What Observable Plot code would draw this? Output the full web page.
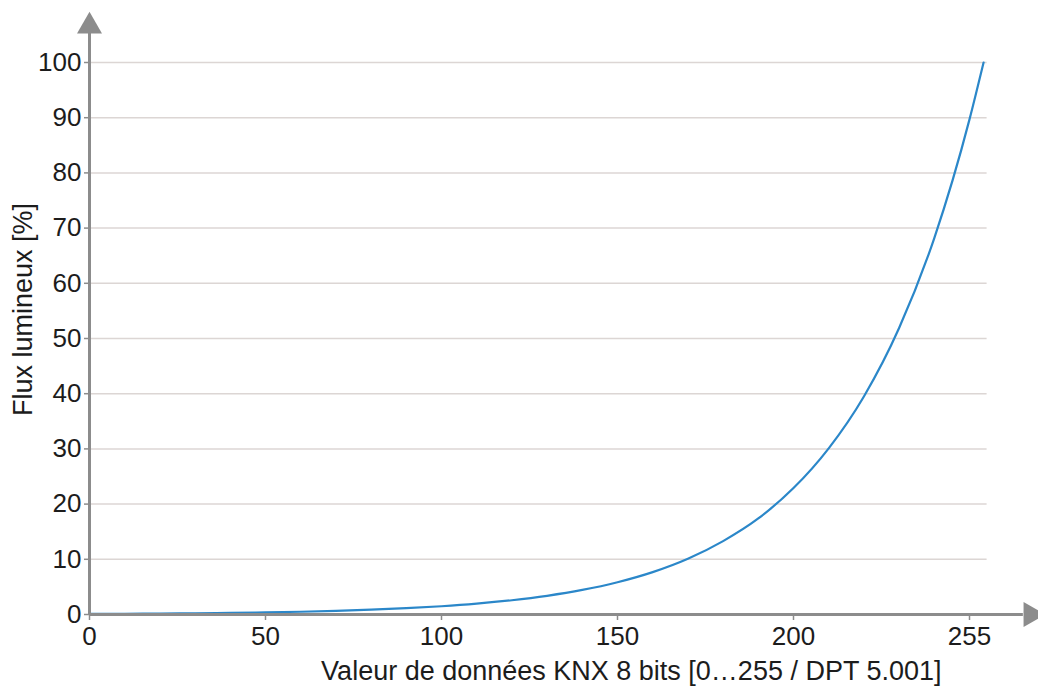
<!DOCTYPE html>
<html>
<head>
<meta charset="utf-8">
<script src="https://cdn.jsdelivr.net/npm/d3@7"></script>
<script src="https://cdn.jsdelivr.net/npm/@observablehq/plot@0.6"></script>
<style>
  html, body { margin: 0; padding: 0; background: #fff; }
  #chart svg { display: block; }
</style>
</head>
<body>
<div id="chart"></div>
<script>
// Data
const dataValues = [0, 10, 20, 30, 40, 50, 60, 70, 80, 90, 100, 110, 120, 130, 140, 150, 160, 170, 180, 190, 200, 210, 220, 230, 240, 250, 254];
const luminousFlux = [0.1, 0.13, 0.17, 0.22, 0.29, 0.38, 0.5, 0.66, 0.87, 1.14, 1.49, 1.96, 2.58, 3.39, 4.45, 5.85, 7.68, 10.1, 13.3, 17.4, 22.9, 30.1, 39.5, 51.9, 68.2, 89.7, 100];
const xTickValues = [0, 50, 100, 150, 200, 250];
const xTickLabels = ["0", "50", "100", "150", "200", "255"];
const yTickValues = [0, 10, 20, 30, 40, 50, 60, 70, 80, 90, 100];
const yGridValues = [10, 20, 30, 40, 50, 60, 70, 80, 90, 100];
const xLabel = "Valeur de données KNX 8 bits [0…255 / DPT 5.001]";
const yLabel = "Flux lumineux [%]";

const table = dataValues.map((v, i) => ({x: v, y: luminousFlux[i]}));
const axisGrey = "#8c8c8c";

const chart = Plot.plot({
  width: 1038,
  height: 686,
  marginLeft: 89,
  marginRight: 51.4,
  marginTop: 62,
  marginBottom: 72,
  style: {fontFamily: "'Liberation Sans', Arial, sans-serif", fontSize: "26px", color: "#1c1c1c", background: "#fff"},
  x: {domain: [0, 255], axis: null},
  y: {domain: [0, 100], axis: null},
  marks: [
    Plot.gridY(yGridValues, {stroke: "#dcd6d4", strokeOpacity: 1, strokeWidth: 1.5}),
    Plot.line(table, {x: "x", y: "y", curve: "monotone-x", stroke: "#2b87c9", strokeWidth: 2.2}),
    Plot.ruleX([0], {y1: 0, y2: 105.25, stroke: axisGrey, strokeWidth: 3}),
    Plot.ruleY([0], {x1: 0, x2: 265.3, stroke: axisGrey, strokeWidth: 3}),
    Plot.dot([{x: 0, y: 106.56}], {x: "x", y: "y", symbol: "triangle", r: 9.28, fill: axisGrey, stroke: "none"}),
    Plot.dot([{x: 267.4, y: 0}], {x: "x", y: "y", symbol: "triangle", r: 9.28, fill: axisGrey, stroke: "none", rotate: 90}),
    Plot.axisX(xTickValues, {tickSize: 6, tickPadding: 6, stroke: axisGrey, strokeWidth: 1.5, label: null,
      tickFormat: (d) => xTickLabels[xTickValues.indexOf(d)]}),
    Plot.axisY(yTickValues, {tickSize: 5, tickPadding: 3, stroke: axisGrey, strokeWidth: 1.5, label: null}),
    Plot.text([xLabel], {frameAnchor: "bottom", dx: 93, dy: 56.6, text: (d) => d, fontSize: 27, textAnchor: "middle", lineAnchor: "middle", fill: "#1c1c1c"}),
    Plot.text([yLabel], {frameAnchor: "left", dx: -66, dy: -29, rotate: -90, text: (d) => d, fontSize: 27, textAnchor: "middle", lineAnchor: "middle", fill: "#1c1c1c"})
  ]
});
document.getElementById("chart").appendChild(chart);
</script>
</body>
</html>
